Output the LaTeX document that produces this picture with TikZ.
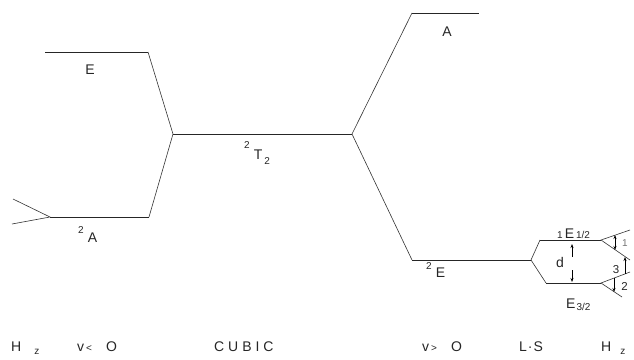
\documentclass[tikz,border=0pt]{standalone}
\usepackage{fontspec}
\setmainfont{Liberation Sans}
\newfontfamily\spaced[LetterSpace=28]{Liberation Sans}
\usetikzlibrary{arrows.meta}
\newcommand{\smt}[1]{{\fontsize{10}{10}\selectfont #1}}
\newcommand{\mdt}[1]{{\fontsize{11.5}{11.5}\selectfont #1}}
\begin{document}
\begin{tikzpicture}[x=1pt,y=-1pt,
  font=\fontsize{14}{14}\selectfont,
  level/.style={line width=1pt, black!85},
  conn/.style={line width=0.6pt, black!80},
  arr/.style={line width=0.6pt, -{Stealth[length=4pt,width=3pt]}},
  arrboth/.style={line width=0.6pt, {Stealth[length=4pt,width=3pt]}-{Stealth[length=4pt,width=3pt]}},
  lbl/.style={inner sep=0pt, text=black!85}]
\useasboundingbox (0,0) rectangle (634,359);
% level end points
\coordinate (eL) at (45,52);
\coordinate (eR) at (148,52);
\coordinate (aL) at (50,217);
\coordinate (aR) at (149,217);
\coordinate (tL) at (173,134);
\coordinate (tR) at (352,134);
\coordinate (AL) at (412,13);
\coordinate (AR) at (479,13);
\coordinate (EL) at (412,260);
\coordinate (ER) at (531,260);
\coordinate (u1) at (540,240);
\coordinate (u2) at (601,240);
\coordinate (l1) at (546,283);
\coordinate (l2) at (601,283);
% fan ends
\coordinate (fa1) at (13,199);
\coordinate (fa2) at (12,224);
\coordinate (fu1) at (630,230);
\coordinate (fu2) at (630,260);
\coordinate (fl1) at (630,272);
\coordinate (fl2) at (622,297);
% levels
\draw[level] (eL) -- (eR);
\draw[level] (aL) -- (aR);
\draw[level] (tL) -- (tR);
\draw[level] (AL) -- (AR);
\draw[level] (EL) -- (ER);
\draw[level] (u1) -- (u2);
\draw[level] (l1) -- (l2);
% connectors
\draw[conn] (eR) -- (tL) -- (aR);
\draw[conn] (AL) -- (tR) -- (EL);
\draw[conn] (u1) -- (ER) -- (l1);
\draw[conn] (fa1) -- (aL) -- (fa2);
\draw[conn] (fu1) -- (u2) -- (fu2);
\draw[conn] (fl1) -- (l2) -- (fl2);
% transition arrows
\coordinate (a1t) at (615,235);
\coordinate (a1b) at (615,250);
\coordinate (a3b) at (625,274);
\coordinate (a3t) at (625,257);
\coordinate (a2t) at (614,278);
\coordinate (a2b) at (614,292);
\draw[arrboth] (a1t) -- (a1b);
\draw[arr] (a3b) -- (a3t);
\draw[arr] (a2t) -- (a2b);
% d arrows
\coordinate (d1s) at (572,257);
\coordinate (d1e) at (572,244);
\coordinate (d2s) at (572,270);
\coordinate (d2e) at (572,282);
\draw[arr] (d1s) -- (d1e);
\draw[arr] (d2s) -- (d2e);
% labels
\node[lbl] (lE) at (90,70) {E};
\node[lbl] (lA) at (447,32) {A};
\node[lbl, anchor=base west] (l2A) at (78,242) {\raisebox{9pt}{\smt{2}}\hspace{4pt}A};
\node[lbl, anchor=base west] (l2T) at (244,159) {\raisebox{11pt}{\smt{2}}\hspace{4pt}T\hspace{2pt}\raisebox{-5pt}{\smt{2}}};
\node[lbl, anchor=base west] (l2E) at (426,277) {\raisebox{8pt}{\smt{2}}\hspace{4pt}E};
\node[lbl, anchor=base west] (lE12) at (557,238.5) {\smt{1}\hspace{2pt}E\hspace{2pt}\smt{1/2}};
\node[lbl, anchor=base west] (lE32) at (566,308) {E\hspace{1pt}\raisebox{-2pt}{\smt{3/2}}};
\node[lbl, anchor=base] (ld) at (560,267) {d};
\node[lbl, text=black!55] (l1) at (625,243.5) {\smt{1}};
\node[lbl] (l3) at (616,270) {\mdt{3}};
\node[lbl] (l2) at (624.5,286) {\mdt{2}};
% bottom labels
\node[lbl, anchor=base west] (bH1) at (11,351) {H\hspace{13pt}\raisebox{-3pt}{\smt{z}}};
\node[lbl, anchor=base west] (bV1) at (77,351) {v\hspace{2pt}\smt{<}\hspace{14pt}O};
\node[lbl, anchor=base west] (bC) at (214,351) {\spaced CUBIC};
\node[lbl, anchor=base west] (bV2) at (422,351) {v\hspace{2pt}\smt{>}\hspace{14pt}O};
\node[lbl, anchor=base west] (bLS) at (519,351) {L\hspace{1pt}·\hspace{1pt}S};
\node[lbl, anchor=base west] (bH2) at (601,351) {H\hspace{9pt}\raisebox{-3pt}{\smt{z}}};
\end{tikzpicture}
\end{document}
